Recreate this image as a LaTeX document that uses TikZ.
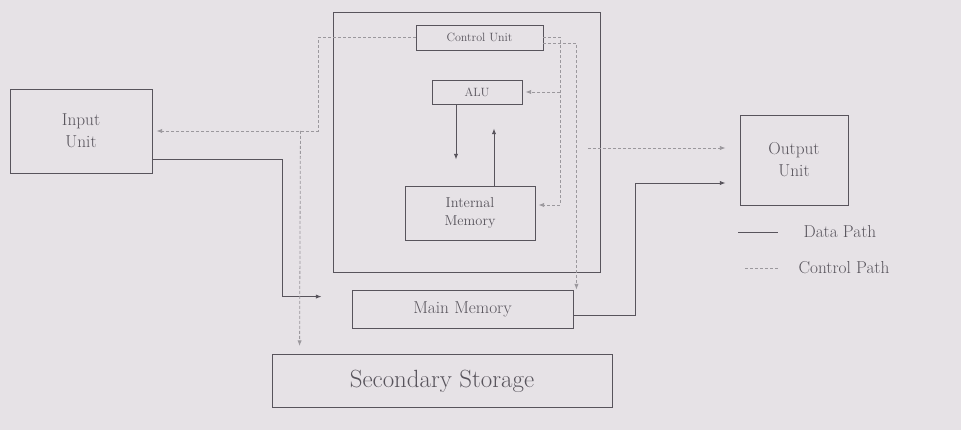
\documentclass[tikz,border=0pt]{standalone}
\usetikzlibrary{arrows.meta,calc}
\definecolor{paper}{RGB}{230,226,230}
\definecolor{pencil}{RGB}{88,84,92}

\begin{document}
\begin{tikzpicture}[x=1pt, y=-1pt, >={Latex[length=2mm]},
  box/.style={draw=pencil, line width=0.9pt, text=pencil, rectangle, align=center, inner sep=0pt},
  data/.style={draw=pencil, line width=0.9pt},
  ctrl/.style={draw=pencil!60, line width=0.8pt, densely dashed},
  txt/.style={text=pencil, font=\LARGE, anchor=west}]
  \fill[paper] (0,0) rectangle (961,430);
  % processor and the units inside it
  \node[box, minimum width=267pt, minimum height=260pt] (cpu) at (466.5,142) {};
  \node[box, minimum width=127pt, minimum height=25pt, font=\large] (cu) at (479.5,37.5) {Control Unit};
  \node[box, minimum width=90pt, minimum height=24pt, font=\large] (alu) at (477,92) {ALU};
  \node[box, minimum width=130pt, minimum height=54pt, font=\Large] (imem) at (470,213) {Internal\\Memory};
  % units outside
  \node[box, minimum width=142pt, minimum height=84pt, font=\LARGE] (inp) at (81,131) {Input\\Unit};
  \node[box, minimum width=108pt, minimum height=90pt, font=\LARGE] (out) at (794,160) {Output\\Unit};
  \node[box, minimum width=221pt, minimum height=38pt, font=\LARGE] (mm) at (462.5,309) {Main Memory};
  \node[box, minimum width=340pt, minimum height=53pt, font=\Huge] (ss) at (442,381) {Secondary Storage};
  \coordinate (cbus) at ($(imem.east)+(25,0)$);
  % data paths
  \draw[data,->,shorten >=26pt] ($(alu.south)+(-21,0)$) -- ($(imem.north)+(-14,0)$);
  \draw[data,->,shorten >=24pt] ($(imem.north)+(24,0)$) -- ($(alu.south)+(17,0)$);
  \draw[data,->,shorten >=30pt] ($(inp.south east)+(0,-14)$) -- ++(130,0) |- ($(mm.north west)+(0,7)$);
  \draw[data,->,shorten >=14pt] ($(mm.east)+(0,6)$) -- ++(62,0) |- ($(out.west)+(0,23)$);
  % control paths
  \draw[ctrl,->] (cu.east) -| ($(cbus)+(0,-8)$) -- ($(imem.east)+(3,-8)$);
  \draw[ctrl,->,shorten >=3pt] (cbus |- alu.east) -- (alu.east);
  \draw[ctrl,->] ($(cu.east)+(0,6)$) -| ($(mm.north east)+(3,0)$);
  \draw[ctrl,->,shorten >=14pt] ($(cpu.east)+(-12,6)$) -- ($(out.west)+(0,-12)$);
  \draw[ctrl,->,shorten >=4pt] (cu.west) -| ($(inp.east)+(166,0)$) -- (inp.east);
  \draw[ctrl,->,shorten >=8pt] ($(inp.east)+(148,0)$) -- ($(ss.north west)+(28,0)$);
  % legend
  \coordinate (ld1) at (738,232);
  \coordinate (ld2) at (778,232);
  \coordinate (lc1) at (745,268);
  \coordinate (lc2) at (778,268);
  \draw[data] (ld1) -- (ld2);
  \draw[ctrl] (lc1) -- (lc2);
  \node[txt] (ldata) at (800,232) {Data Path};
  \node[txt] (lctrl) at (795,268) {Control Path};
\end{tikzpicture}
\end{document}
